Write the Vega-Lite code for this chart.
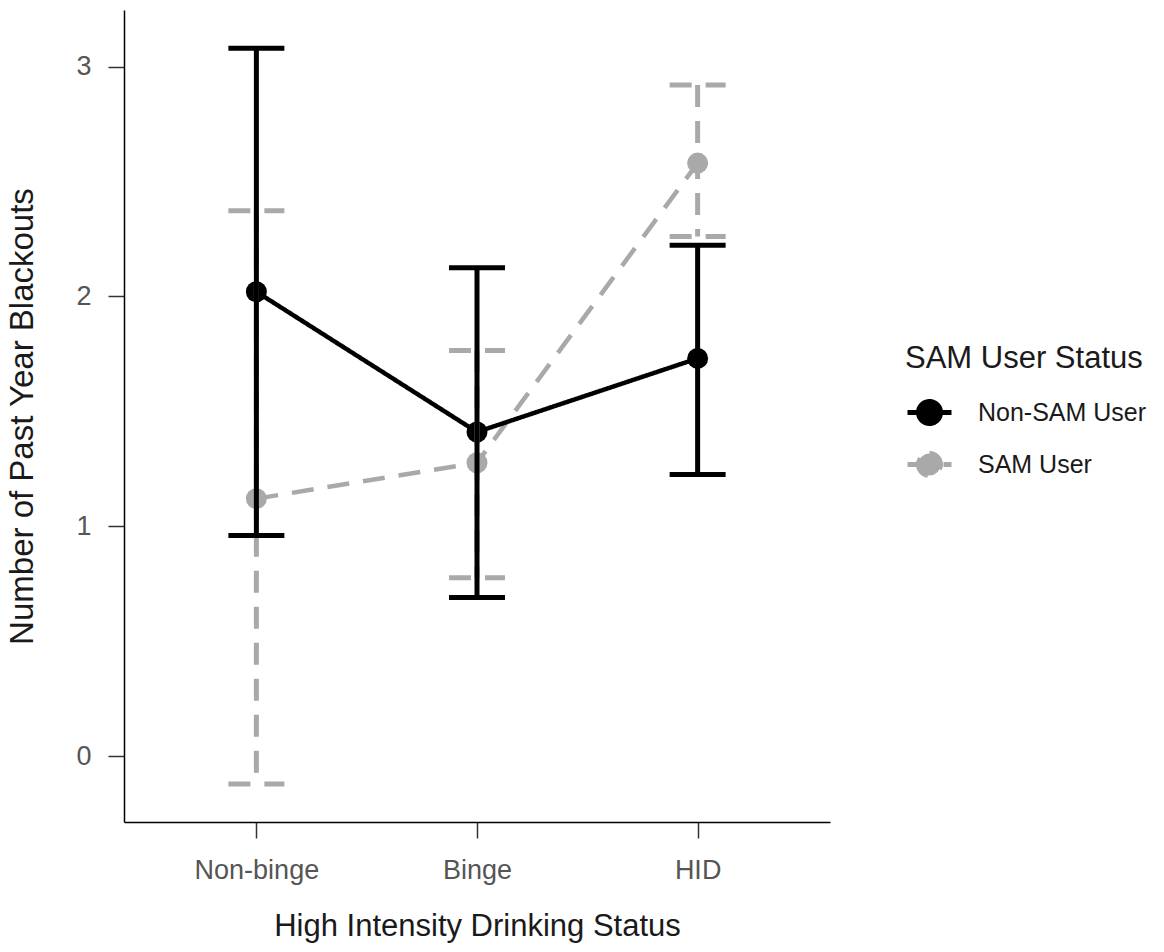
{
  "$schema": "https://vega.github.io/schema/vega-lite/v6.json",
  "width": 706,
  "height": 812,
  "autosize": {"type": "none"},
  "padding": {"left": 124, "top": 10, "right": 334, "bottom": 130},
  "background": "white",
  "config": {
    "view": {"stroke": null},
    "font": "Liberation Sans",
    "axis": {
      "grid": false,
      "domainColor": "#000000",
      "domainWidth": 1.5,
      "tickColor": "#333333",
      "tickWidth": 1.5,
      "tickSize": 16,
      "labelFont": "Liberation Sans",
      "labelFontSize": 27,
      "labelColor": "#555555",
      "titleFont": "Liberation Sans",
      "titleFontWeight": "normal",
      "titleColor": "#1a1a1a"
    },
    "legend": {
      "orient": "none",
      "legendX": 781,
      "legendY": 334,
      "padding": 0,
      "titleFont": "Liberation Sans",
      "titleFontSize": 31,
      "titleFontWeight": "normal",
      "titleColor": "#1a1a1a",
      "titleLimit": 500,
      "titlePadding": 13,
      "labelFont": "Liberation Sans",
      "labelFontSize": 25,
      "labelColor": "#1a1a1a",
      "labelLimit": 400,
      "labelOffset": 24,
      "rowPadding": 6,
      "symbolSize": 1936,
      "symbolStrokeWidth": 5,
      "symbolType": "M-1,0L1,0M0,-0.5A0.5,0.5,0,1,1,0,0.5A0.5,0.5,0,1,1,0,-0.5Z"
    }
  },
  "data": {
    "values": [
      {"group": "SAM User", "cat": "Non-binge", "mean": 1.12, "lower": -0.122, "upper": 2.372},
      {"group": "SAM User", "cat": "Binge", "mean": 1.276, "lower": 0.776, "upper": 1.764},
      {"group": "SAM User", "cat": "HID", "mean": 2.58, "lower": 2.26, "upper": 2.92},
      {"group": "Non-SAM User", "cat": "Non-binge", "mean": 2.02, "lower": 0.96, "upper": 3.08},
      {"group": "Non-SAM User", "cat": "Binge", "mean": 1.41, "lower": 0.69, "upper": 2.125},
      {"group": "Non-SAM User", "cat": "HID", "mean": 1.73, "lower": 1.225, "upper": 2.222}
    ]
  },
  "encoding": {
    "x": {
      "field": "cat",
      "type": "nominal",
      "title": "High Intensity Drinking Status",
      "scale": {"type": "point", "domain": ["Non-binge", "Binge", "HID"], "padding": 0.6},
      "axis": {"labelAngle": 0, "labelPadding": 19, "titleFontSize": 31, "titlePadding": 28}
    },
    "color": {
      "field": "group",
      "type": "nominal",
      "title": "SAM User Status",
      "scale": {"domain": ["Non-SAM User", "SAM User"], "range": ["#000000", "#a9a9a9"]},
      "legend": {
        "encode": {"symbols": {"update": {"fill": {"scale": "color", "field": "value"}, "opacity": {"value": 1}}}}
      }
    },
    "strokeDash": {
      "field": "group",
      "type": "nominal",
      "title": "SAM User Status",
      "scale": {"domain": ["Non-SAM User", "SAM User"], "range": [[1, 0], [22, 14]]},
      "legend": {
        "encode": {"symbols": {"update": {"fill": {"scale": "color", "field": "value"}, "opacity": {"value": 1}}}}
      }
    }
  },
  "layer": [
    {
      "mark": {"type": "line", "strokeWidth": 4.5},
      "encoding": {
        "y": {
          "field": "mean",
          "type": "quantitative",
          "title": "Number of Past Year Blackouts",
          "scale": {"domain": [-0.287, 3.246], "nice": false, "zero": false},
          "axis": {"values": [0, 1, 2, 3], "format": "d", "labelPadding": 17, "titleFontSize": 33, "titlePadding": 36}
        }
      }
    },
    {
      "mark": {"type": "point", "filled": true, "size": 440, "opacity": 1},
      "encoding": {
        "y": {"field": "mean", "type": "quantitative"}
      }
    },
    {
      "mark": {"type": "rule", "strokeWidth": 5},
      "encoding": {
        "y": {"field": "upper", "type": "quantitative"},
        "y2": {"field": "lower"}
      }
    },
    {
      "mark": {"type": "rule", "strokeWidth": 5, "xOffset": -28, "x2Offset": 28},
      "encoding": {
        "x2": {"field": "cat"},
        "y": {"field": "upper", "type": "quantitative"}
      }
    },
    {
      "mark": {"type": "rule", "strokeWidth": 5, "xOffset": -28, "x2Offset": 28},
      "encoding": {
        "x2": {"field": "cat"},
        "y": {"field": "lower", "type": "quantitative"}
      }
    }
  ]
}
